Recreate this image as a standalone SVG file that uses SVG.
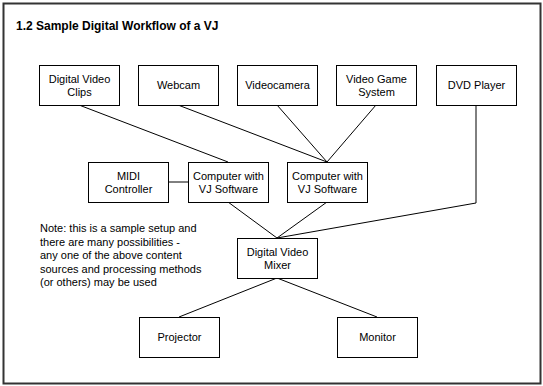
<svg xmlns="http://www.w3.org/2000/svg" width="543" height="386" viewBox="0 0 543 386">
<style>
.box{fill:#fff;stroke:#000;stroke-width:1}
.t{font-family:"Liberation Sans",Arial,sans-serif;font-size:11px;fill:#000;text-anchor:middle}
.n{font-family:"Liberation Sans",Arial,sans-serif;font-size:11px;fill:#000}
.c{fill:none;stroke:#000;stroke-width:1}
</style>
<rect x="0" y="0" width="543" height="386" fill="#fff"/>
<rect x="3.5" y="3.5" width="537" height="380" fill="#fff" stroke="#333" stroke-width="2"/>
<text x="16" y="30" font-family="'Liberation Sans',Arial,sans-serif" font-size="12" font-weight="bold">1.2 Sample Digital Workflow of a VJ</text>
<g id="connectors">
<line class="c" x1="79" y1="105" x2="228" y2="162"/>
<line class="c" x1="178" y1="105" x2="327" y2="162"/>
<line class="c" x1="277" y1="105" x2="327" y2="162"/>
<line class="c" x1="376" y1="105" x2="327" y2="162"/>
<line class="c" x1="168" y1="182" x2="188" y2="182"/>
<line class="c" x1="228" y1="202" x2="277" y2="238"/>
<line class="c" x1="327" y1="202" x2="277" y2="238"/>
<polyline class="c" points="476,105 476,203 277,238"/>
<line class="c" x1="277" y1="278" x2="179" y2="317"/>
<line class="c" x1="277" y1="278" x2="377" y2="317"/>
</g>
<g id="dvc"><rect class="box" x="39.5" y="65.5" width="80" height="40"/><text class="t" x="79.5" y="82.5">Digital Video</text><text class="t" x="79.5" y="95.5">Clips</text></g>
<g id="webcam"><rect class="box" x="138.5" y="65.5" width="80" height="40"/><text class="t" x="178.5" y="89">Webcam</text></g>
<g id="videocamera"><rect class="box" x="237.5" y="65.5" width="80" height="40"/><text class="t" x="277.5" y="89">Videocamera</text></g>
<g id="vgs"><rect class="box" x="336.5" y="65.5" width="80" height="40"/><text class="t" x="376.5" y="82.5">Video Game</text><text class="t" x="376.5" y="95.5">System</text></g>
<g id="dvd"><rect class="box" x="436.5" y="65.5" width="80" height="40"/><text class="t" x="476.5" y="89">DVD Player</text></g>
<g id="midi"><rect class="box" x="88.5" y="162.5" width="80" height="40"/><text class="t" x="128.5" y="179.5">MIDI</text><text class="t" x="128.5" y="192.5">Controller</text></g>
<g id="comp1"><rect class="box" x="188.5" y="162.5" width="80" height="40"/><text class="t" x="228.5" y="179.5">Computer with</text><text class="t" x="228.5" y="192.5">VJ Software</text></g>
<g id="comp2"><rect class="box" x="287.5" y="162.5" width="80" height="40"/><text class="t" x="327.5" y="179.5">Computer with</text><text class="t" x="327.5" y="192.5">VJ Software</text></g>
<g id="mixer"><rect class="box" x="237.5" y="238.5" width="80" height="40"/><text class="t" x="277.5" y="255.5">Digital Video</text><text class="t" x="277.5" y="268.5">Mixer</text></g>
<g id="projector"><rect class="box" x="139.5" y="317.5" width="80" height="40"/><text class="t" x="179.5" y="341">Projector</text></g>
<g id="monitor"><rect class="box" x="337.5" y="317.5" width="80" height="40"/><text class="t" x="377.5" y="341">Monitor</text></g>
<g id="note">
<text class="n" x="40" y="232">Note: this is a sample setup and</text>
<text class="n" x="40" y="245.5">there are many possibilities -</text>
<text class="n" x="40" y="259">any one of the above content</text>
<text class="n" x="40" y="272.5">sources and processing methods</text>
<text class="n" x="40" y="286">(or others) may be used</text>
</g>
</svg>
